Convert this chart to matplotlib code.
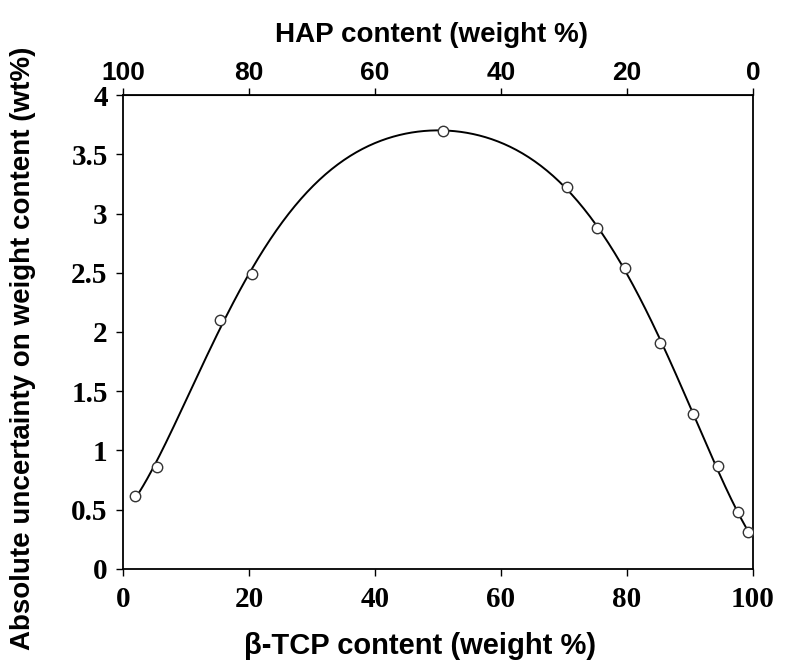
import numpy as np
import matplotlib
matplotlib.use("Agg")
import matplotlib.pyplot as plt

# beta-TCP content (wt%) and absolute uncertainty (wt%)
tcp = [1.9, 5.4, 15.4, 20.5, 50.8, 70.5, 75.2, 79.7, 85.2, 90.5, 94.4, 97.6, 99.2]
unc = [0.62, 0.86, 2.10, 2.49, 3.70, 3.22, 2.88, 2.54, 1.91, 1.31, 0.87, 0.48, 0.31]

x_ticks = [0, 20, 40, 60, 80, 100]
y_ticks = [0, 0.5, 1, 1.5, 2, 2.5, 3, 3.5, 4]
y_ticklabels = ["0", "0.5", "1", "1.5", "2", "2.5", "3", "3.5", "4"]

serif = "Liberation Serif"
sans = "Liberation Sans"

fig = plt.figure(figsize=(7.9, 6.63), dpi=100)
ax = fig.add_axes([0.1557, 0.1418, 0.7973, 0.7149])

# smooth fitted curve through the measurements
coef = np.polyfit(tcp, unc, 6)
xs = np.linspace(tcp[0], tcp[-1], 300)
ax.plot(xs, np.polyval(coef, xs), color="black", lw=1.4, zorder=2)
ax.plot(tcp, unc, "o", ms=7.5, mfc="white", mec="#333333", mew=1.0, zorder=3)

ax.set_xlim(0, 100)
ax.set_ylim(0, 4)
ax.set_xticks(x_ticks)
ax.set_xticklabels([str(v) for v in x_ticks], fontfamily=serif, fontweight="bold", fontsize=21)
ax.set_yticks(y_ticks)
ax.set_yticklabels(y_ticklabels, fontfamily=serif, fontweight="bold", fontsize=21)
ax.tick_params(axis="x", direction="out", length=5, width=1.0, pad=7)
ax.tick_params(axis="y", direction="out", length=5, width=1.0, pad=6)

for s in ax.spines.values():
    s.set_linewidth(1.3)

# top axis: HAP content = 100 - beta-TCP content
top = ax.secondary_xaxis("top", functions=(lambda v: 100 - v, lambda v: 100 - v))
top.set_xticks(x_ticks)
top.set_xticklabels([str(v) for v in x_ticks], fontfamily=sans, fontweight="bold", fontsize=19)
top.tick_params(direction="out", length=5, width=1.0, pad=2)
top.set_xlabel("HAP content (weight %)", fontfamily=sans, fontweight="bold", fontsize=20)
top.xaxis.set_label_coords(0.49, 1.112, transform=ax.transAxes)

ax.set_xlabel("β-TCP content (weight %)", fontfamily=sans, fontweight="bold", fontsize=21)
ax.xaxis.set_label_coords(0.471, -0.132)
ax.set_ylabel("Absolute uncertainty on weight content (wt%)", fontfamily=sans, fontweight="bold",
              fontsize=20)
ax.yaxis.set_label_coords(-0.138, 0.466)

fig.savefig("out.png", dpi=100, facecolor="white")
